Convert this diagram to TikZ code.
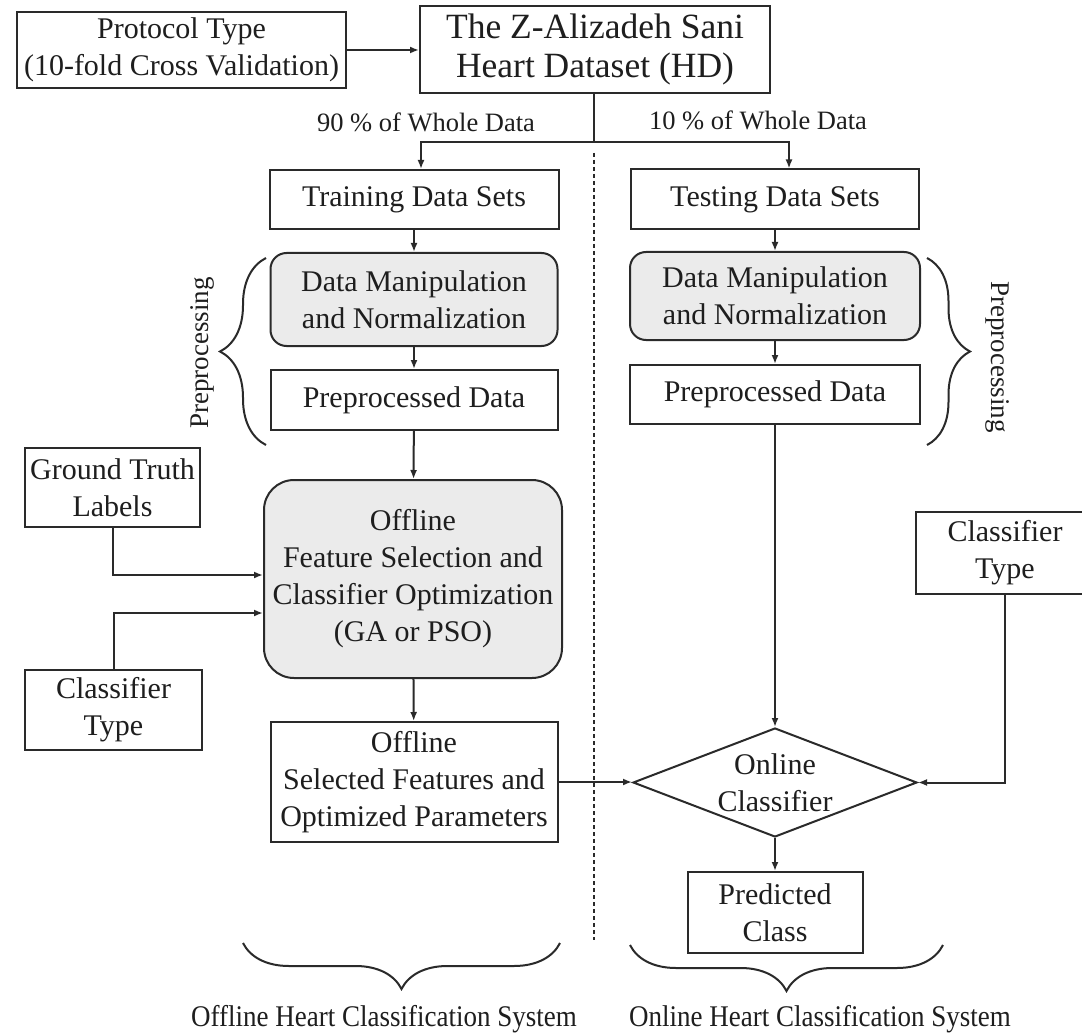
\documentclass[tikz,border=0pt]{standalone}
\usepackage{fontspec}
\setmainfont{Liberation Serif}
\usetikzlibrary{arrows.meta,shapes.geometric,decorations.pathreplacing}
\definecolor{ink}{HTML}{2A2A2A}
\definecolor{txt}{HTML}{1E1E1E}
\definecolor{boxgray}{HTML}{EBEBEB}
\begin{document}
\begin{tikzpicture}[x=1pt,y=-1pt,
  every node/.style={font=\fontsize{30}{37}\selectfont, text=txt},
  box/.style={draw=ink, line width=2pt, inner sep=0pt, align=center, fill=white},
  procbox/.style={box, fill=boxgray, rounded corners=16pt},
  arr/.style={draw=ink, line width=2pt, -{Latex[length=9pt,width=7pt]}},
  link/.style={draw=ink, line width=2pt},
  smalllbl/.style={font=\fontsize{26.5}{32}\selectfont},
  sidelbl/.style={font=\fontsize{27}{32}\selectfont},
  bracemark/.style={draw=ink, line width=2pt, decorate, decoration={brace, amplitude=#1}},
]
\useasboundingbox (0,0) rectangle (1082,1035);
\fill[white] (0,0) rectangle (1082,1035);

% divider between the offline and online parts
\draw[ink, line width=1.5pt, dash pattern=on 4pt off 3pt] (594,153) -- (594,940);

% top row
\node[box, minimum width=329pt, minimum height=76pt] (proto) at (181.5,50) {Protocol Type\\(10-fold Cross Validation)};
\node[box, minimum width=350pt, minimum height=87pt, font=\fontsize{35.5}{39}\selectfont] (hd) at (595,49.5) {The Z-Alizadeh Sani\\Heart Dataset (HD)};
\node[smalllbl] (p90) at (426,122) {90 \% of Whole Data};
\node[smalllbl] (p10) at (758,120) {10 \% of Whole Data};

% offline column
\node[box, minimum width=289pt, minimum height=59pt] (train) at (414,199.5) {Training Data Sets};
\node[procbox, minimum width=287pt, minimum height=93pt] (dmL) at (414,299.5) {Data Manipulation\\and Normalization};
\node[box, minimum width=287pt, minimum height=60pt] (ppL) at (414,400) {Preprocessed Data};
\node[procbox, rounded corners=30pt, minimum width=298pt, minimum height=198pt] (fs) at (413,579) {Offline\\Feature Selection and\\Classifier Optimization\\(GA or PSO)};
\node[box, minimum width=287pt, minimum height=120pt] (os) at (414,782) {Offline\\Selected Features and\\Optimized Parameters};
\node[box, minimum width=175pt, minimum height=79pt] (gt) at (112.5,487.5) {Ground Truth\\Labels};
\node[box, minimum width=177pt, minimum height=80pt] (ctL) at (113.5,710) {Classifier\\Type};

% online column
\node[box, minimum width=288pt, minimum height=60pt] (test) at (775,199.5) {Testing Data Sets};
\node[procbox, minimum width=290pt, minimum height=88pt] (dmR) at (775,296) {Data Manipulation\\and Normalization};
\node[box, minimum width=290pt, minimum height=59pt] (ppR) at (775,394.5) {Preprocessed Data};
\node[box, minimum width=178pt, minimum height=82pt] (ctR) at (1005,553) {Classifier\\Type};
\node[draw=ink, line width=2pt, diamond, aspect=2.6, inner sep=0pt, minimum width=284pt, minimum height=109pt, align=center, fill=white] (dia) at (775,782.5) {Online\\Classifier};
\node[box, minimum width=175pt, minimum height=81pt] (pred) at (775,912.5) {Predicted\\Class};

% preprocessing braces
\draw[bracemark=46] (266,445) -- (266,258);
\node[sidelbl, rotate=90] (preL) at (202,353) {Preprocessing};
\draw[bracemark=43] (927,258) -- (927,445);
\node[sidelbl, rotate=-90] (preR) at (998,357) {Preprocessing};

% system braces
\draw[bracemark=46] (560,943) -- (243,943);
\draw[bracemark=46] (943,945) -- (630,945);
\node (offsys) at (384,1019) {\scalebox{0.9}[1]{Offline Heart Classification System}};
\node (onsys) at (820,1019) {\scalebox{0.9}[1]{Online Heart Classification System}};

% connectors
\draw[arr] (proto.east) -- (proto.east -| hd.west);
\coordinate (split) at (594,142);
\draw[link] (split |- hd.south) -- (split);
\draw[arr] (split) -| ([xshift=7pt]train.north);
\draw[arr] (split) -| ([xshift=14pt]test.north);

\draw[arr] (train) -- (dmL);
\draw[arr] (dmL) -- (ppL);
\draw[arr] (ppL) -- (fs);
\draw[arr] (fs) -- (os);
\draw[arr] (gt.south) |- ([yshift=4pt]fs.west);
\draw[arr] (ctL.north) |- ([yshift=-34pt]fs.west);

\draw[arr] (test) -- (dmR);
\draw[arr] (dmR) -- (ppR);
\draw[arr] (ppR) -- (dia);
\draw[arr] (dia) -- (pred);
\draw[arr] (os.east) -- (os.east -| dia.west);
\draw[arr] (ctR.south) |- (dia.east);
\end{tikzpicture}
\end{document}
